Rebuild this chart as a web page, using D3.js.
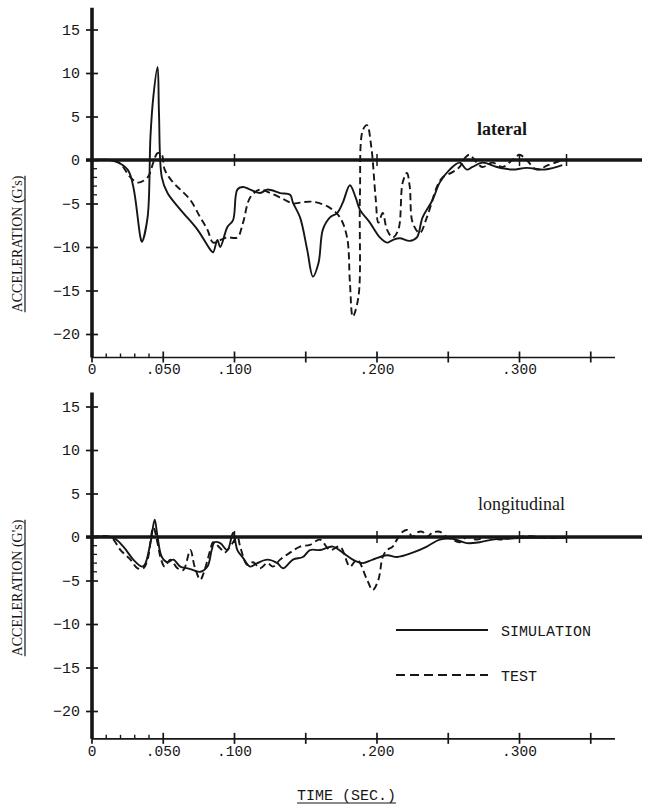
<!DOCTYPE html>
<html>
<head>
<meta charset="utf-8">
<script src="https://cdn.jsdelivr.net/npm/d3@7"></script>
<style>
body { margin: 0; background: #fff; }
svg { display: block; }
</style>
</head>
<body>
<svg id="chart" width="645" height="810"></svg>
<script>
// time in seconds, acceleration in G's
const lateralSim = [
  [0,0],[0.015,-0.1],[0.025,-1.1],[0.029,-3.1],[0.034,-8.9],[0.035,-9.4],[0.039,-6.6],
  [0.041,2.6],[0.043,7.2],[0.046,10.7],[0.047,5.4],[0.049,-2.0],[0.053,-3.8],[0.062,-5.7],
  [0.074,-8.0],[0.083,-10.3],[0.085,-10.6],[0.088,-9.2],[0.090,-10.0],[0.095,-7.7],
  [0.099,-6.9],[0.102,-3.4],[0.106,-3.1],[0.111,-3.4],[0.118,-3.8],[0.123,-3.4],
  [0.132,-3.8],[0.139,-4.0],[0.141,-4.9],[0.146,-6.6],[0.151,-10.3],[0.155,-13.4],
  [0.159,-11.8],[0.162,-8.0],[0.167,-6.6],[0.172,-6.1],[0.176,-4.9],[0.181,-2.9],
  [0.185,-4.3],[0.188,-5.7],[0.195,-7.2],[0.202,-8.9],[0.207,-9.5],[0.211,-9.2],
  [0.216,-9.0],[0.223,-9.3],[0.228,-8.9],[0.232,-6.6],[0.239,-4.6],[0.244,-2.6],
  [0.251,-1.1],[0.258,-0.3],[0.263,-1.1],[0.267,-0.8],[0.274,-0.3],[0.284,-0.8],
  [0.295,-1.1],[0.305,-0.9],[0.318,-1.1],[0.330,-0.6]
];
const lateralTest = [
  [0,0],[0.018,-0.2],[0.027,-2.0],[0.032,-2.6],[0.039,-2.0],[0.043,-0.3],[0.046,0.8],
  [0.049,0.6],[0.051,-1.1],[0.057,-2.6],[0.062,-3.4],[0.069,-4.6],[0.076,-6.6],
  [0.081,-8.0],[0.085,-9.5],[0.090,-9.2],[0.095,-8.9],[0.102,-8.9],[0.106,-7.2],
  [0.111,-4.3],[0.118,-3.4],[0.125,-3.8],[0.132,-4.3],[0.141,-5.0],[0.146,-4.9],
  [0.155,-4.8],[0.167,-5.5],[0.174,-6.6],[0.179,-8.9],[0.181,-14.1],[0.183,-18.0],
  [0.187,-15.7],[0.188,-4.3],[0.190,3.4],[0.193,4.0],[0.196,1.5],[0.199,-4.3],
  [0.201,-7.2],[0.204,-6.1],[0.207,-8.0],[0.211,-8.9],[0.215,-8.0],[0.218,-2.6],
  [0.221,-1.5],[0.223,-3.1],[0.225,-7.2],[0.230,-8.4],[0.235,-6.6],[0.242,-3.1],
  [0.246,-2.0],[0.253,-1.4],[0.258,-0.8],[0.262,0.3],[0.265,0.6],[0.270,-0.3],
  [0.274,-0.8],[0.281,-0.3],[0.288,-0.8],[0.295,0],[0.300,0.6],[0.305,0],
  [0.312,-1.1],[0.320,-0.6],[0.330,0]
];
const longitudinalSim = [
  [0,0],[0.015,-0.1],[0.022,-1.1],[0.029,-2.6],[0.035,-3.4],[0.037,-3.2],[0.041,-0.7],
  [0.044,2.0],[0.046,0],[0.049,-2.3],[0.053,-2.9],[0.057,-2.6],[0.062,-3.4],[0.067,-3.6],
  [0.071,-3.8],[0.076,-4.0],[0.081,-3.4],[0.084,-1.5],[0.086,-0.6],[0.090,-0.7],
  [0.095,-1.5],[0.099,0.5],[0.102,-1.5],[0.106,-2.4],[0.111,-3.4],[0.116,-3.0],
  [0.123,-2.6],[0.130,-3.0],[0.134,-3.6],[0.141,-2.6],[0.148,-2.3],[0.153,-1.5],
  [0.160,-1.5],[0.169,-1.1],[0.176,-1.8],[0.183,-2.6],[0.190,-3.0],[0.197,-2.6],
  [0.207,-2.1],[0.214,-2.3],[0.225,-1.8],[0.235,-1.1],[0.244,-0.3],[0.253,-0.2],
  [0.263,-0.7],[0.272,-0.6],[0.281,-0.3],[0.291,-0.2],[0.307,-0.1],[0.333,-0.1]
];
const longitudinalTest = [
  [0,0],[0.013,0],[0.020,-1.5],[0.027,-2.6],[0.032,-3.6],[0.036,-3.6],[0.039,-2.6],
  [0.043,1.1],[0.046,-0.7],[0.048,-2.3],[0.051,-3.4],[0.055,-2.6],[0.060,-3.6],
  [0.064,-3.8],[0.069,-1.5],[0.072,-3.4],[0.076,-4.9],[0.079,-3.8],[0.083,-1.5],
  [0.085,-0.6],[0.090,-1.3],[0.093,-1.8],[0.097,-1.1],[0.102,0],[0.104,-1.1],
  [0.109,-3.2],[0.113,-2.9],[0.118,-3.6],[0.123,-3.0],[0.127,-3.4],[0.132,-2.6],
  [0.139,-1.8],[0.146,-1.1],[0.153,-0.9],[0.160,-0.3],[0.167,-1.5],[0.174,-1.1],
  [0.181,-3.4],[0.186,-2.6],[0.193,-4.9],[0.197,-6.1],[0.201,-4.9],[0.204,-2.3],
  [0.207,-1.5],[0.211,-1.1],[0.214,-0.3],[0.218,0.6],[0.221,0.8],[0.225,0],
  [0.228,0.5],[0.232,0.6],[0.235,0],[0.239,0.5],[0.244,0.6],[0.249,0],[0.253,-0.3],
  [0.258,-0.6],[0.263,0],[0.270,-0.3],[0.277,0],[0.286,-0.3],[0.295,-0.1],
  [0.307,0.1],[0.321,-0.1],[0.333,0]
];

// axis ticks
const yTicks = [-20, -15, -10, -5, 0, 5, 10, 15];
const yMinorTicks = [-1, -2, -3, -4];
const xMajorTicks = [0, 0.05, 0.1, 0.15, 0.2, 0.25, 0.3, 0.35];
const xMinorTicks = [0.01, 0.02, 0.03, 0.04];
const xLabelTicks = [0, 0.05, 0.1, 0.2, 0.3];
const zeroLineMarks = [0.1, 0.2, 0.3, 0.333];

const legendItems = ['SIMULATION', 'TEST'];

const ink = '#161616';
const monoFont = '"Liberation Mono", "DejaVu Sans Mono", monospace';
const serifFont = '"Liberation Serif", "DejaVu Serif", serif';

const svg = d3.select('#chart');
svg.append('rect').attr('width', 645).attr('height', 810).attr('fill', '#fff');

// shared time scale (same for both panels)
const x = d3.scaleLinear().domain([0, 0.2]).range([92, 377]);

const xFormat = t => t === 0 ? '0' : d3.format('.3f')(t).replace(/^0/, '');
const yFormat = v => v < 0 ? '\u2212' + Math.abs(v) : String(v);

/**
 * Draws one acceleration panel
 * @param cfg panel settings
 */
function drawPanel(cfg) {
    const y = d3.scaleLinear().domain([0, 15]).range([cfg.zeroY, cfg.zeroY - 130.5]);
    const g = svg.append('g').attr('class', 'panel');
    const axisY = y(cfg.yMin);

    // x axis (thin line with crossing ticks)
    g.append('line')
        .attr('x1', x(0)).attr('x2', x(0.367))
        .attr('y1', axisY).attr('y2', axisY)
        .attr('stroke', ink).attr('stroke-width', 1.7);

    g.selectAll('.xmajor')
        .data(xMajorTicks)
        .enter().append('line')
        .attr('class', 'xmajor')
        .attr('x1', d => x(d)).attr('x2', d => x(d))
        .attr('y1', axisY - 6).attr('y2', axisY + 5)
        .attr('stroke', ink).attr('stroke-width', 1.7);

    g.selectAll('.xminor')
        .data(xMinorTicks)
        .enter().append('line')
        .attr('class', 'xminor')
        .attr('x1', d => x(d)).attr('x2', d => x(d))
        .attr('y1', axisY - 4).attr('y2', axisY)
        .attr('stroke', ink).attr('stroke-width', 1.4);

    g.selectAll('.xlabel')
        .data(xLabelTicks)
        .enter().append('text')
        .attr('class', 'xlabel')
        .attr('x', d => x(d))
        .attr('y', axisY + 17)
        .attr('text-anchor', 'middle')
        .attr('font-family', monoFont)
        .attr('font-size', 14.5)
        .attr('fill', ink)
        .text(xFormat);

    // y axis through d3.axisLeft, ticks made to cross the spine
    const yAxis = g.append('g')
        .attr('transform', `translate(${x(0)},0)`)
        .call(d3.axisLeft(y).tickValues(yTicks).tickSize(6).tickPadding(6).tickFormat(yFormat));
    yAxis.select('.domain').remove();
    yAxis.selectAll('.tick line').attr('x1', 6).attr('stroke', ink).attr('stroke-width', 1.7);
    yAxis.selectAll('.tick text')
        .attr('font-family', monoFont)
        .attr('font-size', 15)
        .attr('fill', ink);

    g.selectAll('.yminor')
        .data(yMinorTicks)
        .enter().append('line')
        .attr('class', 'yminor')
        .attr('x1', x(0)).attr('x2', x(0) + 5)
        .attr('y1', d => y(d)).attr('y2', d => y(d))
        .attr('stroke', ink).attr('stroke-width', 1.3);

    // thick y spine
    g.append('line')
        .attr('x1', x(0)).attr('x2', x(0))
        .attr('y1', y(cfg.yMax)).attr('y2', axisY)
        .attr('stroke', ink).attr('stroke-width', 3.6);

    // heavy zero line
    g.append('line')
        .attr('x1', x(0) - 6).attr('x2', 642)
        .attr('y1', y(0)).attr('y2', y(0))
        .attr('stroke', ink).attr('stroke-width', 3.3);

    g.selectAll('.zmark')
        .data(zeroLineMarks)
        .enter().append('line')
        .attr('class', 'zmark')
        .attr('x1', d => x(d)).attr('x2', d => x(d))
        .attr('y1', y(0) - 6).attr('y2', y(0) + 6)
        .attr('stroke', ink).attr('stroke-width', 1.5);

    const makeLinePath = d3.line()
        .x(d => x(d[0]))
        .y(d => y(d[1]))
        .curve(d3.curveCatmullRom.alpha(0.5));

    g.append('path')
        .attr('d', makeLinePath(cfg.test))
        .attr('fill', 'none')
        .attr('stroke', ink)
        .attr('stroke-width', 1.9)
        .attr('stroke-dasharray', '7,4');

    g.append('path')
        .attr('d', makeLinePath(cfg.sim))
        .attr('fill', 'none')
        .attr('stroke', ink)
        .attr('stroke-width', 1.9);

    // panel name
    g.append('text')
        .attr('x', cfg.nameX)
        .attr('y', cfg.nameY)
        .attr('font-family', serifFont)
        .attr('font-size', 18)
        .attr('font-weight', cfg.nameBold ? 'bold' : 'normal')
        .attr('fill', ink)
        .text(cfg.name);

    // y axis title, underlined
    const title = g.append('text')
        .attr('transform', `translate(${cfg.titleX},${cfg.titleY}) rotate(-90)`)
        .attr('text-anchor', 'middle')
        .attr('font-family', serifFont)
        .attr('font-size', 14)
        .attr('fill', ink)
        .text("ACCELERATION  (G's)");
    const tw = title.node().getComputedTextLength();
    g.append('line')
        .attr('x1', cfg.titleX + 3).attr('x2', cfg.titleX + 3)
        .attr('y1', cfg.titleY - tw / 2).attr('y2', cfg.titleY + tw / 2)
        .attr('stroke', ink).attr('stroke-width', 1.2);
}

drawPanel({name: 'lateral', nameBold: true, nameX: 477, nameY: 135,
    sim: lateralSim, test: lateralTest, zeroY: 160, yMin: -22.7, yMax: 17.5,
    titleX: 22, titleY: 244});
drawPanel({name: 'longitudinal', nameBold: false, nameX: 478, nameY: 510,
    sim: longitudinalSim, test: longitudinalTest, zeroY: 537, yMin: -23.2, yMax: 16.6,
    titleX: 22, titleY: 588});

// legend
const legend = svg.append('g').attr('class', 'legend');
legend.selectAll('line')
    .data(legendItems)
    .enter().append('line')
    .attr('x1', 396).attr('x2', 488)
    .attr('y1', (d, i) => 630 + i * 45).attr('y2', (d, i) => 630 + i * 45)
    .attr('stroke', ink).attr('stroke-width', 2.2)
    .attr('stroke-dasharray', (d, i) => i ? '9,5' : null);
legend.selectAll('text')
    .data(legendItems)
    .enter().append('text')
    .attr('x', 501)
    .attr('y', (d, i) => 636 + i * 45)
    .attr('font-family', monoFont)
    .attr('font-size', 15)
    .attr('fill', ink)
    .text(d => d);

// x axis title, underlined
const xTitle = svg.append('text')
    .attr('x', 297).attr('y', 800)
    .attr('font-family', monoFont)
    .attr('font-size', 15)
    .attr('fill', ink)
    .text('TIME (SEC.)');
const xw = xTitle.node().getComputedTextLength();
svg.append('line')
    .attr('x1', 297).attr('x2', 297 + xw)
    .attr('y1', 803).attr('y2', 803)
    .attr('stroke', ink).attr('stroke-width', 1.2);
</script>
</body>
</html>
